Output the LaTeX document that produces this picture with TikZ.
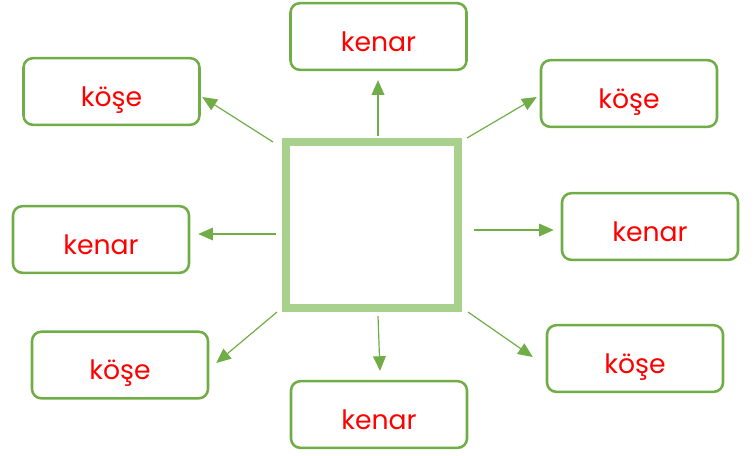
\documentclass[tikz,border=0pt]{standalone}
\usepackage{fontspec}
\setmainfont{Poppins}
\usetikzlibrary{arrows.meta}
\definecolor{boxgreen}{RGB}{112,173,71}
\definecolor{sqgreen}{RGB}{169,209,142}
\definecolor{wordred}{RGB}{255,0,0}
\begin{document}
\begin{tikzpicture}[x=0.75pt,y=0.75pt,yscale=-1,xscale=1,
  wordbox/.style={draw=boxgreen,line width=1.9pt,rounded corners=7pt,fill=white,
    minimum width=132pt,minimum height=50pt,inner sep=0pt,
    text height=22pt,text depth=0pt,
    font=\fontsize{20}{24}\selectfont,text=wordred},
  arr/.style={draw=boxgreen,line width=0.9pt,-{Triangle[length=11pt,width=9.5pt]}}]
\useasboundingbox (0,0) rectangle (755,455);

%Shape: Square
\node (sq) at (372,225) [draw=sqgreen,line width=6pt,minimum width=129pt,minimum height=124.5pt,inner sep=0pt] {};

% Text Node
\node (kose1) at (111.5,91.5) [wordbox] {köşe};
% Text Node
\node (kenar1) at (378.5,36.5) [wordbox] {kenar};
% Text Node
\node (kose2) at (629,93.5) [wordbox] {köşe};
% Text Node
\node (kenar2) at (650,226.5) [wordbox] {kenar};
% Text Node
\node (kenar3) at (101,239.5) [wordbox] {kenar};
% Text Node
\node (kose3) at (120,365) [wordbox] {köşe};
% Text Node
\node (kenar4) at (379,414.5) [wordbox] {kenar};
% Text Node
\node (kose4) at (635,358.5) [wordbox] {köşe};

%Straight Lines
\draw [arr] ([shift={(-9,4)}]sq.north west) -- ([shift={(1.5,5.5)}]kose1.east);
\draw [arr] ([shift={(6,-2)}]sq.north) -- ([shift={(-0.5,9)}]kenar1.south);
\draw [arr] ([shift={(5,0)}]sq.north east) -- ([shift={(-3,3.5)}]kose2.west);
\draw [arr] ([shift={(12,5)}]sq.east) -- ([shift={(-7,3.5)}]kenar2.west);
\draw [arr] ([shift={(-6,9)}]sq.west) -- ([shift={(8,-5.5)}]kenar3.east);
\draw [arr] ([shift={(-5,0)}]sq.south west) -- ([shift={(7,-2)}]kose3.east);
\draw [arr] ([shift={(6,4)}]sq.south) -- ([shift={(1,-9)}]kenar4.north);
\draw [arr] ([shift={(6,0)}]sq.south east) -- ([shift={(-13,-1.5)}]kose4.west);

\end{tikzpicture}
\end{document}
